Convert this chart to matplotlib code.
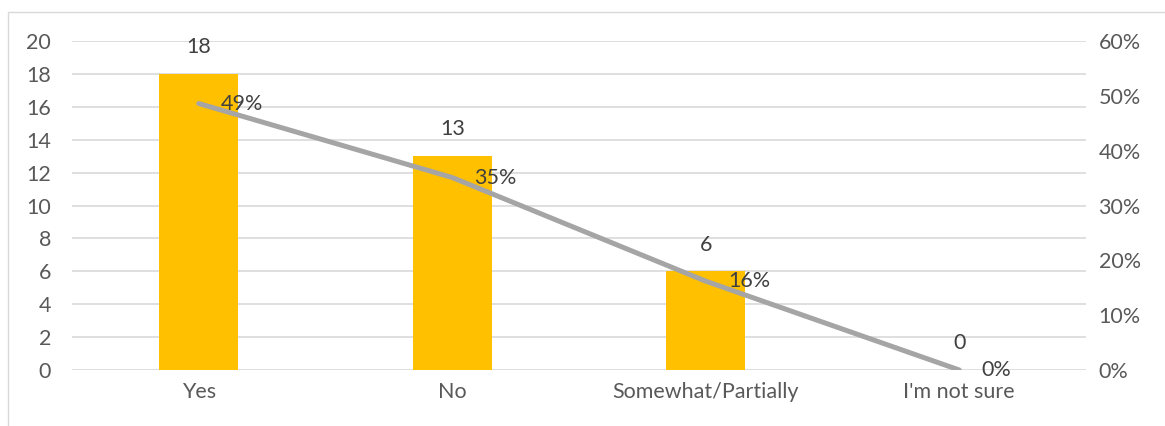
import matplotlib
matplotlib.use("Agg")
import matplotlib.pyplot as plt
from matplotlib.patches import Rectangle
from matplotlib.ticker import FuncFormatter

categories = ["Yes", "No", "Somewhat/Partially", "I'm not sure"]
counts = [18, 13, 6, 0]
shares = [0.486, 0.351, 0.162, 0.0]
left_ticks = [0, 2, 4, 6, 8, 10, 12, 14, 16, 18, 20]
right_ticks = [0, 0.1, 0.2, 0.3, 0.4, 0.5, 0.6]

plt.rcParams['font.family'] = ['Lato', 'DejaVu Sans']
TXT = '#595959'
LBL = '#404040'
FS = 15.5

fig = plt.figure(figsize=(11.65, 4.26), dpi=100)
fig.patches.append(Rectangle((8/1165, -0.1), 1.2, 1 - 12/426 + 0.1, transform=fig.transFigure,
                             fill=False, edgecolor='#d9d9d9', linewidth=1.0))
ax = fig.add_axes([72/1165, 1 - 370/426, 1014/1165, 329/426])
x = list(range(len(categories)))
ax.bar(x, counts, width=0.31, color='#ffc000', zorder=2)
ax.set_xlim(-0.5, len(categories) - 0.5)
ax.set_ylim(0, 20)
ax.set_yticks(left_ticks)
ax.set_xticks(x)
ax.set_xticklabels(categories)
ax.grid(axis='y', color='#d9d9d9', linewidth=1.2, zorder=0)
ax.set_axisbelow(True)
for s in ax.spines.values():
    s.set_visible(False)
ax.tick_params(axis='both', length=0, labelsize=FS, colors=TXT)
ax.tick_params(axis='y', pad=15)
ax.tick_params(axis='x', pad=9)
for xi, v in zip(x, counts):
    ax.annotate(str(v), (xi, v), xytext=(0, 12), textcoords='offset points',
                ha='center', va='bottom', fontsize=FS, color=LBL)

ax2 = ax.twinx()
ax2.set_ylim(0, 0.6)
ax2.set_yticks(right_ticks)
ax2.yaxis.set_major_formatter(FuncFormatter(lambda v, p: f"{v*100:.0f}%"))
for s in ax2.spines.values():
    s.set_visible(False)
ax2.tick_params(axis='y', length=0, labelsize=FS, colors=TXT, pad=9)
ax2.plot(x, shares, color='#a5a5a5', linewidth=3.6, solid_capstyle='round', zorder=3)
for xi, v in zip(x, shares):
    ax2.annotate(f"{round(v*100):.0f}%", (xi, v), xytext=(16, 0), textcoords='offset points',
                 ha='left', va='center', fontsize=FS, color=LBL, zorder=4)

fig.savefig("out.png", dpi=100)
